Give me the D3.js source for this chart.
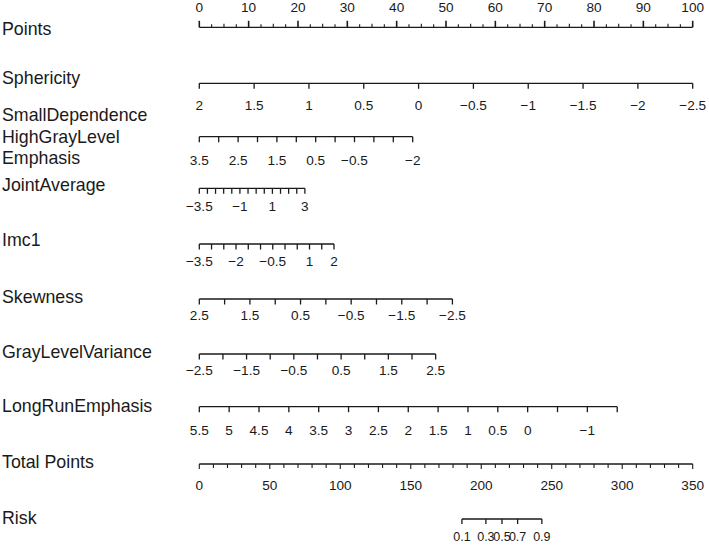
<!DOCTYPE html>
<html><head><meta charset="utf-8">
<script src="https://cdn.jsdelivr.net/npm/d3@7"></script>
<style>body{margin:0;background:#fff}</style>
</head><body><svg id="c" width="709" height="545"></svg>
<script>
// ---- data ----
const pointsTicks = d3.range(0, 100.01, 2.5);
const pointsLabels = [0,10,20,30,40,50,60,70,80,90,100];

const sphericityTicks = [2,1.5,1,0.5,0,-0.5,-1,-1.5,-2,-2.5];
const sphericityLabels = [2,1.5,1,0.5,0,-0.5,-1,-1.5,-2,-2.5];
const sphericityPoints = [0,100];

const sdhgleTicks = [3.5,3,2.5,2,1.5,1,0.5,0,-0.5,-1,-1.5,-2];
const sdhgleLabels = [3.5,2.5,1.5,0.5,-0.5,-2];
const sdhglePoints = [0,43.25];

const jointAvgTicks = [-3.5,-3,-2.5,-2,-1.5,-1,-0.5,0,0.5,1,1.5,2,2.5,3];
const jointAvgLabels = [-3.5,-1,1,3];
const jointAvgPoints = [0,21.4];

const imc1Ticks = [-3.5,-3,-2.5,-2,-1.5,-1,-0.5,0,0.5,1,1.5,2];
const imc1Labels = [-3.5,-2,-0.5,1,2];
const imc1Points = [0,27.3];

const skewTicks = [2.5,2,1.5,1,0.5,0,-0.5,-1,-1.5,-2,-2.5];
const skewLabels = [2.5,1.5,0.5,-0.5,-1.5,-2.5];
const skewPoints = [0,51.3];

const glvTicks = [-2.5,-2,-1.5,-1,-0.5,0,0.5,1,1.5,2,2.5];
const glvLabels = [-2.5,-1.5,-0.5,0.5,1.5,2.5];
const glvPoints = [0,47.9];

const lreTicks = [5.5,5,4.5,4,3.5,3,2.5,2,1.5,1,0.5,0,-0.5,-1,-1.5];
const lreLabels = [5.5,5,4.5,4,3.5,3,2.5,2,1.5,1,0.5,0,-1];
const lrePoints = [0,84.7];

const totalTicks = d3.range(0, 350.01, 10);
const totalLabels = [0,50,100,150,200,250,300,350];

const riskValues = [0.1,0.3,0.5,0.7,0.9];
const riskTotals = [186.3,203.3,214.7,225.8,243.0];

// ---- drawing ----
const svg = d3.select("#c");
const X0 = 199.3, X1 = 692.7;
const xPts = d3.scaleLinear().domain([0,100]).range([X0,X1]);
const xTot = d3.scaleLinear().domain([0,350]).range([X0,X1]);
const ink = "#1a1a1a";
const titleFont = "17.8px 'Liberation Sans', Arial, sans-serif";
const tickFont = "13.6px 'Liberation Sans', Arial, sans-serif";
const fmt = v => (v < 0 ? "\u2212" : "") + Math.abs(v);

function title(lines, ys) {
  lines.forEach((t,i) => svg.append("text").attr("x",2).attr("y",ys[i])
    .style("font", titleFont).attr("fill", ink).text(t));
}

function hline(y, xa, xb) {
  svg.append("line").attr("x1",xa).attr("x2",xb).attr("y1",y).attr("y2",y)
    .attr("stroke",ink).attr("stroke-width",1.3);
}

// Points axis (ticks up, labels above)
(function(){
  const y = 27.3;
  hline(y, xPts(0), xPts(100));
  svg.append("g").selectAll("line").data(pointsTicks).join("line")
    .attr("x1",d=>xPts(d)).attr("x2",d=>xPts(d)).attr("y1",y)
    .attr("y2",d=> d%10===0 ? y-6.5 : (d%5===0 ? y-3.5 : y-3))
    .attr("stroke",ink).attr("stroke-width",d=>d%10===0?1.6:1.1);
  svg.append("g").selectAll("text").data(pointsLabels).join("text")
    .attr("x",d=>xPts(d)).attr("y",12).attr("text-anchor","middle")
    .style("font",tickFont).attr("fill",ink).text(d=>d);
  title(["Points"],[35]);
})();

function varAxis(ticks, labels, pts, y, labelY, titles, titleYs) {
  const s = d3.scaleLinear().domain([ticks[0], ticks[ticks.length-1]]).range(pts);
  hline(y, xPts(s(ticks[0])), xPts(s(ticks[ticks.length-1])));
  svg.append("g").selectAll("line").data(ticks).join("line")
    .attr("x1",d=>xPts(s(d))).attr("x2",d=>xPts(s(d))).attr("y1",y).attr("y2",y+5.5)
    .attr("stroke",ink).attr("stroke-width",1.3);
  svg.append("g").selectAll("text").data(labels).join("text")
    .attr("x",d=>xPts(s(d))).attr("y",labelY).attr("text-anchor","middle")
    .style("font",tickFont).attr("fill",ink).text(fmt);
  title(titles, titleYs);
}

varAxis(sphericityTicks, sphericityLabels, sphericityPoints, 83.3, 109.5, ["Sphericity"], [84]);
varAxis(sdhgleTicks, sdhgleLabels, sdhglePoints, 136.7, 164.5, ["SmallDependence","HighGrayLevel","Emphasis"], [121,143,164]);
varAxis(jointAvgTicks, jointAvgLabels, jointAvgPoints, 188.3, 210.5, ["JointAverage"], [191]);
varAxis(imc1Ticks, imc1Labels, imc1Points, 244, 265.5, ["Imc1"], [246]);
varAxis(skewTicks, skewLabels, skewPoints, 299, 319.5, ["Skewness"], [303]);
varAxis(glvTicks, glvLabels, glvPoints, 354, 374.5, ["GrayLevelVariance"], [358]);
varAxis(lreTicks, lreLabels, lrePoints, 406.7, 434.5, ["LongRunEmphasis"], [412]);

// Total points
(function(){
  const y = 464;
  hline(y, xTot(0), xTot(350));
  svg.append("g").selectAll("line").data(totalTicks).join("line")
    .attr("x1",d=>xTot(d)).attr("x2",d=>xTot(d)).attr("y1",y)
    .attr("y2",d=> d%50===0 ? y+5 : y+4)
    .attr("stroke",ink).attr("stroke-width",1.1);
  svg.append("g").selectAll("text").data(totalLabels).join("text")
    .attr("x",d=>xTot(d)).attr("y",489.5).attr("text-anchor","middle")
    .style("font",tickFont).attr("fill",ink).text(d=>d);
  title(["Total Points"],[468]);
})();

// Risk
(function(){
  const y = 519;
  hline(y, xTot(riskTotals[0]), xTot(riskTotals[riskTotals.length-1]));
  svg.append("g").selectAll("line").data(riskTotals).join("line")
    .attr("x1",d=>xTot(d)).attr("x2",d=>xTot(d)).attr("y1",y).attr("y2",y+5)
    .attr("stroke",ink).attr("stroke-width",1.3);
  svg.append("g").selectAll("text").data(riskValues).join("text")
    .attr("x",(d,i)=>xTot(riskTotals[i])).attr("y",541).attr("text-anchor","middle")
    .style("font","12.5px 'Liberation Sans', Arial, sans-serif").attr("fill",ink).text(d=>d);
  title(["Risk"],[524]);
})();
</script></body></html>
